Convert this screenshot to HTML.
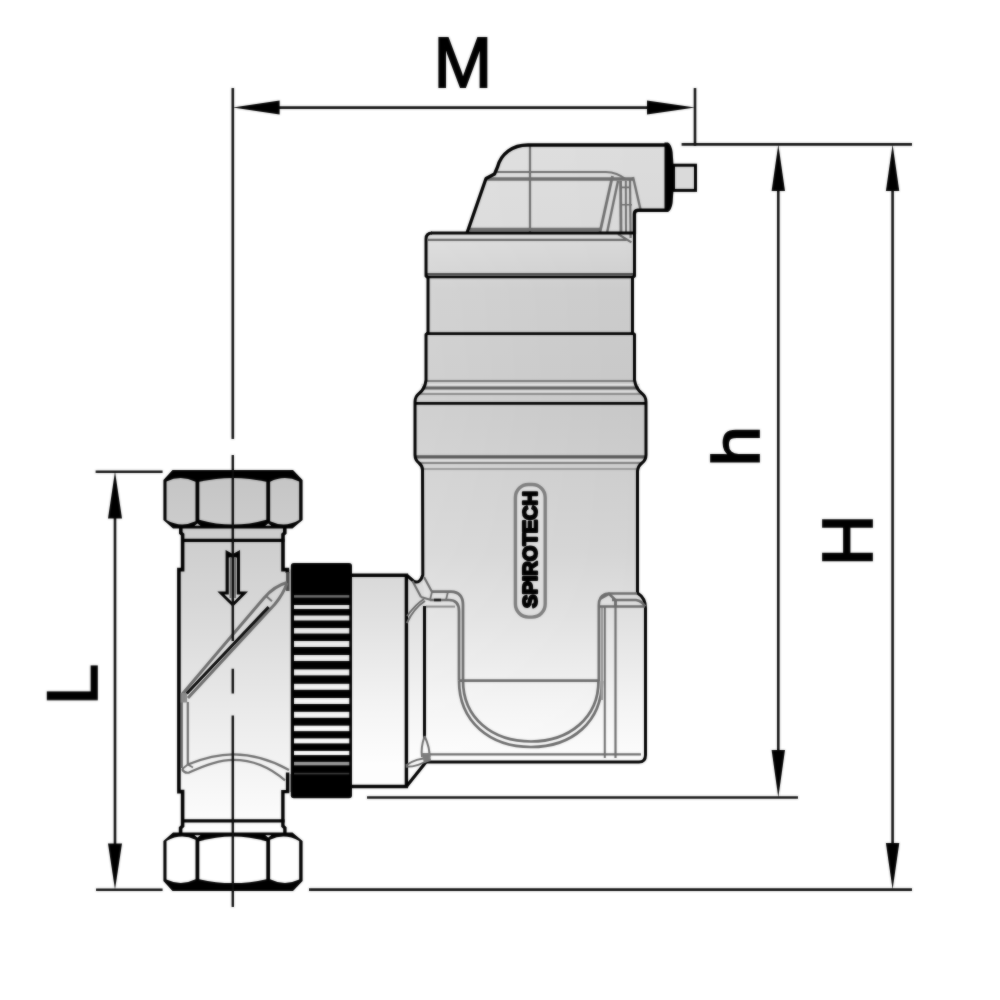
<!DOCTYPE html>
<html><head><meta charset="utf-8"><title>Dimension drawing</title>
<style>
html,body{margin:0;padding:0;background:#fff;overflow:hidden;}
svg{display:block;}
text{font-family:"Liberation Sans",sans-serif;fill:#000;}
</style></head><body>
<svg width="1000" height="1000" viewBox="0 0 1000 1000">
<defs>
<linearGradient id="g" gradientUnits="userSpaceOnUse" x1="0" y1="470" x2="0" y2="840">
<stop offset="0" stop-color="#c4c4c4"/><stop offset="0.35" stop-color="#d6d6d6"/><stop offset="0.68" stop-color="#ececec"/><stop offset="1" stop-color="#ffffff"/>
</linearGradient>
<linearGradient id="gb" gradientUnits="userSpaceOnUse" x1="0" y1="140" x2="0" y2="765">
<stop offset="0" stop-color="#dcdcdc"/><stop offset="0.16" stop-color="#d8d8d8"/><stop offset="0.24" stop-color="#cbcbcb"/><stop offset="0.42" stop-color="#c7c7c7"/><stop offset="0.53" stop-color="#cdcdcd"/><stop offset="0.66" stop-color="#d4d4d4"/><stop offset="0.76" stop-color="#e0e0e0"/><stop offset="0.9" stop-color="#f3f3f3"/><stop offset="1" stop-color="#fdfdfd"/>
</linearGradient>
<linearGradient id="gs" gradientUnits="userSpaceOnUse" x1="0" y1="596" x2="0" y2="770">
<stop offset="0" stop-color="#e2e2e2"/><stop offset="0.6" stop-color="#f4f4f4"/><stop offset="1" stop-color="#ffffff"/>
</linearGradient>
<filter id="nf" x="-10%" y="-10%" width="120%" height="120%"><feOffset dx="0" dy="0"/></filter>
<linearGradient id="gh" gradientUnits="userSpaceOnUse" x1="415" y1="0" x2="646" y2="0">
<stop offset="0" stop-color="#fff" stop-opacity="0.16"/><stop offset="0.5" stop-color="#fff" stop-opacity="0.07"/><stop offset="1" stop-color="#fff" stop-opacity="0"/>
</linearGradient>
<filter id="soft" filterUnits="userSpaceOnUse" x="0" y="0" width="1000" height="1000" color-interpolation-filters="sRGB"><feGaussianBlur in="SourceGraphic" stdDeviation="0.8" result="b"/><feComposite in="SourceGraphic" in2="b" operator="arithmetic" k1="0" k2="0.5" k3="0.5" k4="0"/></filter>
</defs>
<rect width="1000" height="1000" fill="#fff"/>
<g filter="url(#soft)">

<!-- ===== left valve body ===== -->
<g id="valve">
<path d="M180.8,527 L180.8,533 L182.6,534 L182.6,569.5 L178.8,569.5 L178.8,791.5 L182.6,791.5 L182.6,826 L180.8,827 L180.8,834 L284.8,834 L284.8,827 L283,826 L283,791.5 L287.6,791.5 L292,791.5 L292,569.5 L283,569.5 L283,534 L284.8,533 L284.8,527 Z" fill="url(#g)"/>
<path d="M180.8,527 L180.8,533 L182.6,534.5 L182.6,569.6 L178.9,569.6 L178.9,791.6 L182.6,791.6 L182.6,826 L180.6,828 L180.6,834" fill="none" stroke="#000" stroke-width="3.6"/>
<path d="M284.8,527 L284.8,533 L283,534.5 L283,569.6 L287.4,569.6 L287.4,573" fill="none" stroke="#000" stroke-width="3.6"/>
<path d="M287.8,572 L287.8,591" fill="none" stroke="#4a4a4a" stroke-width="3.4"/>
<path d="M287.6,772.5 L287.6,791.6 L282.9,791.6 L282.9,826 L284.9,828 L284.9,834" fill="none" stroke="#000" stroke-width="3.4"/>
<path d="M290,774 L290,792" fill="none" stroke="#8a8a8a" stroke-width="1.6"/>
<line x1="181" y1="540.4" x2="284.6" y2="540.4" stroke="#000" stroke-width="3.3"/>
<line x1="181" y1="820.9" x2="284.6" y2="820.9" stroke="#000" stroke-width="3.3"/>
<!-- diagonal strainer -->
<g fill="none" stroke="#6e6e6e" stroke-width="2.9">
<path d="M287,582.5 C278,585 270,591 264,598 L232,635.5 L181.5,695"/>
<path d="M287,583 C284,592 280,598 275,604 L188,698"/>
<path d="M266,596 L272,601.2" stroke-width="2"/>
<path d="M181.8,702 L181.8,768 M187.8,702 L187.8,764.5" stroke-width="2.2"/>
<path d="M187.8,764.5 C204,758 218,754.4 233,754.4 C255,754.4 273,761 289,770" stroke-width="2.2"/>
<path d="M182.2,769 Q184,773.5 189,772.6 C205,765 219,759.8 233,759.8 C254,759.8 271,768 285,780.4" stroke-width="2.2"/>
<path d="M187.8,764.5 L193,767.6 M182.2,769 L187.8,764.5" stroke-width="1.7"/>
</g>
<path d="M180.5,693 L186.8,693 L187.2,702.6 L180.5,702.6 Z" fill="#8a8a8a"/>
<path d="M268.6,607 L186.7,693.5" fill="none" stroke="#0c0c0c" stroke-width="3"/>
<!-- flow arrow -->
<path d="M225.6,550 L232.8,554 L240,550 L240,591.5 L248,591.5 L232.8,606.8 L217.4,591.5 L225.6,591.5 Z" fill="#000"/>
<path d="M228.8,557.5 L236.8,557.5 L236.8,594.6 L241,594.6 L232.8,602.8 L224.4,594.6 L228.8,594.6 Z" fill="#dcdcdc"/>
<path d="M230.5,558 L230.5,598 M235.1,558 L235.1,598" fill="none" stroke="#707070" stroke-width="1.9"/>
</g>
<path d="M172.5,470 L293,470 L302.6,480 L302.6,520 L292.5,528.5 L173,528.5 L163.4,520 L163.4,480 Z" fill="#000"/>
<path d="M166.5,481.5 Q181,474.5 195.5,481.8 L195.5,521.3 Q181,528.2 166.5,520 Z" fill="url(#g)"/>
<path d="M199.3,481.8 Q233,474 266.3,481.8 L266.3,519.7 Q233,529.4 199.3,519.7 Z" fill="url(#g)"/>
<path d="M270.1,481.8 Q284.6,474.5 299.2,481.5 L299.2,520 Q284.6,528.2 270.1,521.3 Z" fill="url(#g)"/>
<path d="M197.4,523.6 L200.5,525.8 L194.5,525.8 Z M268.2,523.6 L271.3,525.8 L265.3,525.8 Z" fill="url(#g)"/>

<path d="M172.5,891 L293,891 L302.6,881 L302.6,841 L292.5,832.5 L173,832.5 L163.4,841 L163.4,881 Z" fill="#000"/>
<path d="M166.5,879.5 Q181,886.5 195.5,879.2 L195.5,839.7 Q181,832.8 166.5,841 Z" fill="url(#g)"/>
<path d="M199.3,879.2 Q233,887 266.3,879.2 L266.3,841.3 Q233,831.6 199.3,841.3 Z" fill="url(#g)"/>
<path d="M270.1,879.2 Q284.6,886.5 299.2,879.5 L299.2,841 Q284.6,832.8 270.1,839.7 Z" fill="url(#g)"/>
<path d="M197.4,837.4 L200.5,835.2 L194.5,835.2 Z M268.2,837.4 L271.3,835.2 L265.3,835.2 Z" fill="url(#g)"/>


<!-- ===== knurled nut ===== -->
<rect x="290.8" y="563" width="61.2" height="235.3" rx="3" ry="3" fill="#000"/>
<rect x="294" y="595.15" width="55.3" height="2.5" fill="#6e6e6e"/>
<rect x="294" y="605.00" width="55.3" height="4" fill="url(#gs)"/>
<rect x="294" y="615.50" width="55.3" height="5" fill="url(#gs)"/>
<rect x="294" y="628.05" width="55.3" height="5.5" fill="url(#gs)"/>
<rect x="294" y="641.00" width="55.3" height="6" fill="url(#gs)"/>
<rect x="294" y="655.00" width="55.3" height="6" fill="url(#gs)"/>
<rect x="294" y="669.40" width="55.3" height="6" fill="url(#gs)"/>
<rect x="294" y="683.80" width="55.3" height="6" fill="url(#gs)"/>
<rect x="294" y="698.00" width="55.3" height="6" fill="url(#gs)"/>
<rect x="294" y="711.80" width="55.3" height="6" fill="url(#gs)"/>
<rect x="294" y="725.65" width="55.3" height="5.5" fill="url(#gs)"/>
<rect x="294" y="738.40" width="55.3" height="5" fill="url(#gs)"/>
<rect x="294" y="750.90" width="55.3" height="4.2" fill="url(#gs)"/>
<rect x="294" y="761.85" width="55.3" height="3.5" fill="#9a9a9a"/>
<rect x="294" y="772.80" width="55.3" height="1.6" fill="#3c3c3c"/>

<!-- ===== connector ===== -->
<path d="M352,575 L406,575 L411,579.5 Q417,585 423,577 L425,600 L425,740 L426,762 L407,786 L352,786 Z" fill="url(#gb)"/>
<path d="M351,575.2 L406.4,575.2 L406.4,786.5 L351,786.5" fill="none" stroke="#000" stroke-width="3.4"/>
<path d="M406.4,786.5 L426,762" fill="none" stroke="#000" stroke-width="3.2"/>

<!-- ===== main body ===== -->
<g id="body">
<path d="M432,233 L628,233 L634.5,233 L634.5,276 L632.5,277.5 L632.5,333 L634.5,334.5 L634.5,380 Q636,389 642,393.5 Q646,396.5 646,402 L646,455 Q646,460 642,463 Q638,466 637.5,471 L637.5,593 Q645.5,597 645.5,607 L645.5,755 Q645.5,762 639,762 L426,762 L424.5,740 L424.5,600 L423,577 L422.5,470 Q422.5,466 419,463 Q415,460 415,455 L415,402 Q415,396.5 419,393.5 Q425,389 426,380 L426,334.5 L428,333 L428,277.5 L426,276 L426,239 Q426,233 432,233 Z" fill="url(#gb)"/>
<path d="M432,233 L628,233 L634.5,233 L634.5,276 L632.5,277.5 L632.5,333 L634.5,334.5 L634.5,380 Q636,389 642,393.5 Q646,396.5 646,402 L646,455 Q646,460 642,463 Q638,466 637.5,471 L637.5,593 Q645.5,597 645.5,607 L645.5,755 Q645.5,762 639,762 L426,762 L424.5,740 L424.5,600 L423,577 L422.5,470 Q422.5,466 419,463 Q415,460 415,455 L415,402 Q415,396.5 419,393.5 Q425,389 426,380 L426,334.5 L428,333 L428,277.5 L426,276 L426,239 Q426,233 432,233 Z" fill="url(#gh)"/>

<!-- cap -->
<path d="M528,145 L666,145 L666,210 L641,210 Q635,210 635,217 L635,233 L467,233 L486,178.5 L494.5,174 L497.5,167 C501,154 512,145 528,145 Z" fill="url(#gb)"/>
<path d="M528,145 L666,145 L666,210 L641,210 Q635,210 635,217 L635,233 L467,233 L486,178.5 L494.5,174 L497.5,167 C501,154 512,145 528,145 Z" fill="url(#gh)"/>
<!-- cap gray detail -->
<g fill="none" stroke="#6e6e6e">
<line x1="530" y1="146" x2="530" y2="233" stroke-width="2.2"/>
<path d="M497,171.9 L606,171.9 Q617,172 626.4,179.6" stroke-width="2"/>
<path d="M487,179 L633,179" stroke-width="3.6"/>
<path d="M612.5,176 L600,232" stroke-width="2.8"/>
<path d="M618,181 L607.2,232" stroke-width="2.4"/>
<path d="M620.6,181 L621,232" stroke-width="2.8"/>
<path d="M625.8,181 L626,232" stroke-width="2"/>
<path d="M630,180 L630.6,238" stroke-width="2.2"/>
<path d="M633,177 L640.8,210.8" stroke-width="2.4"/>
<path d="M620,187.4 L631,187.4 M620,204.8 L632,204.8" stroke-width="1.6"/>
<line x1="470" y1="229.5" x2="601" y2="229.5" stroke-width="3.6"/>
</g>
<path d="M467,233 L486,178.5 L494.5,174 L497.5,167 C501,154 512,145 528,145 L667,145" fill="none" stroke="#000" stroke-width="3.3" stroke-linejoin="round"/>
<path d="M667,210.3 L638,210.3 Q634.4,210.5 634.4,214 L634.4,234" fill="none" stroke="#000" stroke-width="3.4"/>
<path d="M664.5,142.5 L668,142.5 Q671.5,144.5 672.6,152 Q675,177 672.6,203 Q671.5,210 668,212 L664.5,212 Z" fill="#000"/>
<rect x="673.5" y="165.2" width="22" height="25.2" fill="#dadada" stroke="#000" stroke-width="3"/>

<!-- body gray lines -->
<g fill="none" stroke="#7a7a7a">
<path d="M428,239.8 L626.4,239.8 M618,234 L631.4,242.4" stroke="#6a6a6a" stroke-width="2.2"/>
<line x1="427" y1="274.2" x2="634" y2="274.2" stroke="#505050" stroke-width="2.4"/>
<line x1="427" y1="381" x2="634" y2="381" stroke="#7c7c7c" stroke-width="2"/>
<line x1="421" y1="384.6" x2="640" y2="384.6" stroke="#e2e2e2" stroke-width="1.6"/>
<line x1="422" y1="388" x2="639" y2="388" stroke="#626262" stroke-width="3"/>
<line x1="419" y1="391.4" x2="642" y2="391.4" stroke="#dedede" stroke-width="1.6"/>
<line x1="419" y1="394" x2="642" y2="394" stroke="#8c8c8c" stroke-width="2"/>
<line x1="416" y1="456.8" x2="645" y2="456.8" stroke="#585858" stroke-width="3.2"/>
<line x1="418" y1="460.2" x2="643" y2="460.2" stroke="#e0e0e0" stroke-width="1.6"/>
<line x1="419" y1="463" x2="642" y2="463" stroke="#828282" stroke-width="2.2"/>
<line x1="423" y1="469" x2="637" y2="469" stroke="#9c9c9c" stroke-width="1.8"/>
</g>
<!-- body black lines -->
<g fill="none" stroke="#000" stroke-width="3">
<line x1="431" y1="233" x2="634" y2="233"/>
<line x1="426" y1="277" x2="634" y2="277" stroke-width="2.6"/>
<line x1="426" y1="333.6" x2="634" y2="333.6" stroke-width="2.6"/>
<line x1="415" y1="403.4" x2="646" y2="403.4" stroke-width="2.6"/>
<path d="M432,233 Q426,233 426,239 L426,276 L428,277.5 L428,333 L426,334.5 L426,380 Q425,389 419,393.5 Q415,396.5 415,402 L415,455 Q415,460 419,463 Q422.5,466 422.5,470 L422.8,575 Q420,584 414,581.5 L406.5,575" stroke-linejoin="round"/>
<path d="M634.5,233 L634.5,276 L632.5,277.5 L632.5,333 L634.5,334.5 L634.5,380 Q636,389 642,393.5 Q646,396.5 646,402 L646,455 Q646,460 642,463 Q638,466 637.5,471 L637.5,593 Q645.5,598 645.5,608 L645.5,755 Q645.5,762 639,762 L426,762" stroke-linejoin="round"/>
<line x1="424.5" y1="606" x2="424.5" y2="739"/>
</g>
<!-- lower-body gray detail -->
<g fill="none" stroke="#6c6c6c" stroke-width="2.7">
<path d="M432,591.6 L451,591.6 Q463,592 463,605 L463,681"/>
<path d="M430,600 L449,600 Q459,600 459,611 L459,680.5"/>
<path d="M426,606.6 L455,606.6" stroke="#8a8a8a" stroke-width="2"/>
<path d="M432,591.6 L430,600 M448,591.6 L446,600" stroke-width="1.8"/>
<path d="M424,577 L432,592 M412.5,581 L421,597 M421,597 L431,600" stroke-width="2.2"/>
<path d="M406.8,623 Q414,608 425,601 M407,616 Q416,604 424,599" stroke-width="2"/>
<path d="M434,600 L441,600" stroke="#111" stroke-width="2.6"/>
<line x1="459" y1="680.6" x2="598.5" y2="680.6"/>
<path d="M459,680.6 C459,722 490,747 531,747 C572,747 602,722 602,681"/>
<path d="M463,680.6 C463,718 492,741.5 531,741.5 C569,741.5 598.5,718 598.5,681"/>
<path d="M637,593.5 L609,593.5 Q598.8,594 598.8,605 L598.8,681" stroke-width="2.6"/>
<path d="M601.8,607 L601.8,700" stroke="#9a9a9a" stroke-width="2.4"/>
<path d="M604.8,607 L604.8,758" stroke-width="2"/>
<path d="M615.5,600 L615.5,758" stroke-width="2.2"/>
<path d="M612,600 L636,600 Q642,601 645,606.5 M598.8,606.5 L645,606.5 M600.5,598.5 L609,593.8 L615.5,600 L615.5,606"/>
<line x1="430" y1="754.4" x2="641" y2="754.4" stroke-width="2.3"/>
<path d="M424.6,736 Q420.5,748 422,757 M424.6,736 Q430,748 429.5,757 M430,758 Q416,758 405.8,765.5 M430,759 Q418,767 405.8,766.8" stroke-width="2"/>
</g>
<path d="M421.5,753 L430,753 L431,761 L424,763 Z" fill="#7c7c7c"/>
<!-- logo pill -->
<rect x="515.4" y="484.5" width="29.8" height="132.6" rx="13" ry="13" fill="#dedede" stroke="#7e7e7e" stroke-width="3.4"/>
<g filter="url(#nf)"><text transform="translate(537.2,608) rotate(-90)" font-size="20" font-weight="bold" textLength="117" lengthAdjust="spacingAndGlyphs" stroke="#000" stroke-width="2.2" stroke-linejoin="round">SPIROTECH</text></g>
</g>
<!-- ===== dimensions ===== -->
<g id="dims" fill="none" stroke="#101010" stroke-width="2.6">
<line x1="232.8" y1="88" x2="232.8" y2="439"/>
<line x1="695" y1="88" x2="695" y2="146"/>
<line x1="270" y1="107.6" x2="655" y2="107.6"/>
<line x1="681.6" y1="144.4" x2="912" y2="144.4"/>
<line x1="778.3" y1="180" x2="778.3" y2="760"/>
<line x1="892.6" y1="180" x2="892.6" y2="850"/>
<line x1="367" y1="797.5" x2="798" y2="797.5"/>
<line x1="309" y1="889.6" x2="912" y2="889.6"/>
<line x1="95.6" y1="471.8" x2="162.6" y2="471.8"/>
<line x1="96" y1="889.8" x2="162.6" y2="889.8"/>
<line x1="115" y1="505" x2="115" y2="855"/>
<path d="M232.8,455 L232.8,641 M232.8,668.8 L232.8,693.4 M232.8,715.4 L232.8,907" stroke="#0c0c0c" stroke-width="2.4"/>
</g>
<g id="arrows" fill="#000" stroke="none">
<path d="M232.8,107.6 L279.6,100.6 L279.6,114.6 Z"/>
<path d="M695,107.6 L647,100.6 L647,114.6 Z"/>
<path d="M778.3,144.4 L771.6,191 L785,191 Z"/>
<path d="M892.6,144.4 L885.9,191 L899.3,191 Z"/>
<path d="M778.3,797.5 L771.6,750 L785,750 Z"/>
<path d="M892.6,889.6 L885.9,843 L899.3,843 Z"/>
<path d="M115,471.6 L108,518.4 L122,518.4 Z"/>
<path d="M115,889.4 L108,843.4 L122,843.4 Z"/>
</g>
<g id="labels" font-size="70.5" stroke="#000" stroke-width="1.8" stroke-linejoin="miter">
<text id="tM" x="433.6" y="87.2">M</text>
<text id="th" font-size="67.3" transform="translate(758.9,466.5) rotate(-90) scale(1.085,1)">h</text>
<text id="tH" transform="translate(871.6,566.3) rotate(-90) scale(1.02,1)">H</text>
<text id="tL" transform="translate(96.8,705.3) rotate(-90) scale(1.06,1)">L</text>
</g>
</g>
</svg>
</body></html>
